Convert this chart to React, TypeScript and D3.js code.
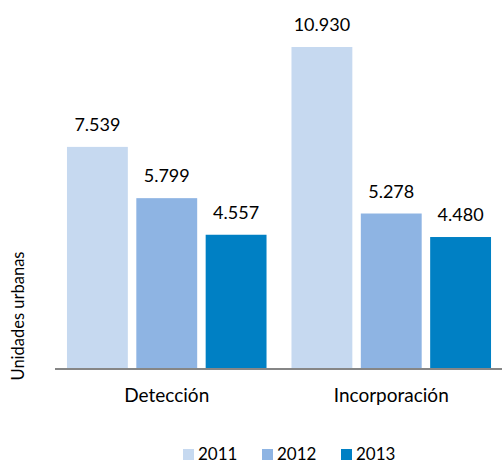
import React from "react";
import * as d3 from "d3";

const categories = ["Detección", "Incorporación"];
const years = ["2011", "2012", "2013"];
const values2011 = [7539, 10930];
const values2012 = [5799, 5278];
const values2013 = [4557, 4480];
const colors = ["#c6d9f0", "#8eb4e3", "#0080c4"];
const yLabel = "Unidades urbanas";

const fmt = (v: number) => d3.format(",")(v).replace(/,/g, ".");

export default function App() {
  const W = 502, H = 464;
  const series = [values2011, values2012, values2013];
  const x0 = d3.scaleBand().domain(categories).range([54.5, 503.5]).paddingInner(25 / 225).paddingOuter(12.5 / 225);
  const x1 = d3.scaleBand().domain(years).range([0, x0.bandwidth()]).paddingInner(8.5 / 69.5).paddingOuter(0);
  const y = d3.scaleLinear().domain([0, 10930]).range([369, 47]);
  const font = "Lato, 'Open Sans', sans-serif";
  const legendX = [183, 262, 341];
  return (
    <svg width={W} height={H} style={{ position: "absolute", left: 0, top: 0 }} fontFamily={font}>
      {categories.map((c, ci) =>
        years.map((yr, si) => {
          const v = series[si][ci];
          const bx = (x0(c) ?? 0) + (x1(yr) ?? 0);
          return (
            <g key={c + yr}>
              <rect x={bx} y={y(v)} width={x1.bandwidth()} height={y(0) - y(v)} fill={colors[si]} />
              <text x={bx + x1.bandwidth() / 2} y={y(v) - 16} textAnchor="middle" fontSize={18} fill="#000">
                {fmt(v)}
              </text>
            </g>
          );
        })
      )}
      <line x1={55} x2={502} y1={369} y2={369} stroke="#868686" strokeWidth={2} />
      {categories.map((c) => (
        <text key={c} x={(x0(c) ?? 0) + x0.bandwidth() / 2} y={402} textAnchor="middle" fontSize={19} fill="#000">
          {c}
        </text>
      ))}
      <text transform="translate(24,316) rotate(-90)" textAnchor="middle" fontSize={16.5} fill="#000">
        {yLabel}
      </text>
      {years.map((yr, i) => (
        <g key={yr}>
          <rect x={legendX[i]} y={449} width={11} height={11} fill={colors[i]} />
          <text x={legendX[i] + 15} y={460} fontSize={17} fill="#000">
            {yr}
          </text>
        </g>
      ))}
    </svg>
  );
}
